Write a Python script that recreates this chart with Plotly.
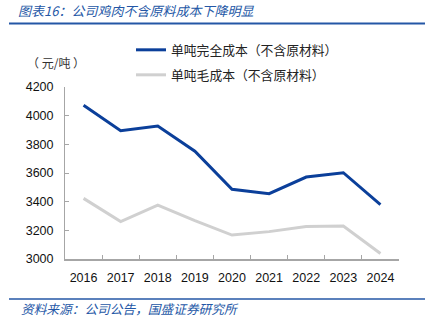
import plotly.graph_objects as go

years = ["2016", "2017", "2018", "2019", "2020", "2021", "2022", "2023", "2024"]
full_cost = [4072, 3895, 3928, 3752, 3486, 3456, 3572, 3602, 3380]
gross_cost = [3423, 3261, 3376, 3268, 3167, 3191, 3226, 3230, 3038]
name_full = "单吨完全成本（不含原材料）"
name_gross = "单吨毛成本（不含原材料）"
title_text = "图表16：公司鸡肉不含原料成本下降明显"
source_text = "资料来源：公司公告，国盛证券研究所"
unit_text = "（ 元/吨 ）"

W, H = 430, 329
L, R, T, B = 65, 31, 87, 69.5
pw, ph = W - L - R, H - T - B

def px(x):
    return (x - L) / pw

def py(y):
    return (H - B - y) / ph

cjk = "Noto Sans CJK SC"
blue = "#0B3F9A"
gray = "#D0D0D0"
tblue = "#2457A6"

fig = go.Figure()
fig.add_trace(go.Scatter(x=years, y=full_cost, mode="lines", name=name_full,
                         line=dict(color=blue, width=3), legend="legend"))
fig.add_trace(go.Scatter(x=years, y=gross_cost, mode="lines", name=name_gross,
                         line=dict(color=gray, width=3), legend="legend2"))

legend_common = dict(xref="container", yref="container", xanchor="left", yanchor="middle",
                     bgcolor="rgba(0,0,0,0)", borderwidth=0,
                     font=dict(family=cjk, size=12.8, color="#222"))
fig.update_layout(
    width=W, height=H,
    margin=dict(l=L, r=R, t=T, b=B, autoexpand=False),
    plot_bgcolor="white", paper_bgcolor="white",
    showlegend=True,
    legend=dict(x=131 / W, y=1 - 50 / H, **legend_common),
    legend2=dict(x=131 / W, y=1 - 75 / H, **legend_common),
    xaxis=dict(type="category", range=[-0.5, 8.5], showgrid=False, showline=True,
               linecolor="#A6A6A6", linewidth=1.5, ticks="inside", tickson="boundaries",
               ticklen=4, tickcolor="#A6A6A6", tickwidth=1, tickangle=0,
               tickfont=dict(family="Liberation Sans, Arial", size=12.5, color="#111"),
               ticklabelstandoff=6, fixedrange=True, automargin=False),
    yaxis=dict(range=[3000, 4200], dtick=200, showgrid=False, showline=True, zeroline=False,
               linecolor="#A6A6A6", linewidth=1, ticks="inside", ticklen=4,
               tickcolor="#A6A6A6", tickfont=dict(family="Liberation Sans, Arial", size=12.5, color="#111"),
               ticklabelstandoff=8, fixedrange=True, automargin=False),
    title=dict(text="<i>" + title_text + "</i>", xref="container", yref="container",
               x=18 / W, y=1 - 11 / H, xanchor="left", yanchor="middle",
               font=dict(family=cjk, size=13, color=tblue)),
)

fig.add_annotation(text=unit_text, xref="paper", yref="paper", x=px(25), y=py(62),
                   xanchor="left", yanchor="middle", showarrow=False,
                   font=dict(family=cjk, size=12, color="#333"))
fig.add_annotation(text="<i>" + source_text + "</i>", xref="paper", yref="paper",
                   x=px(19), y=py(309), xanchor="left", yanchor="middle", showarrow=False,
                   font=dict(family=cjk, size=12.7, color=tblue))

fig.add_shape(type="line", xref="paper", yref="paper", x0=px(9), x1=px(425), y0=py(23.3), y1=py(23.3),
              line=dict(color=tblue, width=2))
fig.add_shape(type="line", xref="paper", yref="paper", x0=px(9), x1=px(425), y0=py(299.5), y1=py(299.5),
              line=dict(color=tblue, width=1.5))

fig.write_html("out.html")
